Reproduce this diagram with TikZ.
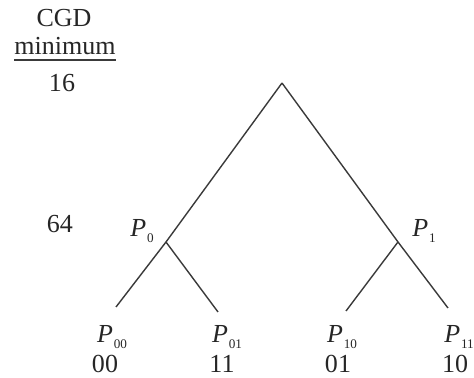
\documentclass[tikz,border=0pt]{standalone}
\usepackage{fontspec}
\setmainfont{Liberation Serif}
\usetikzlibrary{positioning}
\definecolor{treeLine}{HTML}{3A3A3A}
\definecolor{labText}{HTML}{262626}
\newcommand{\plab}[2]{\textit{#1}\kern0.5pt\raisebox{-0.45ex}{\fontsize{7.5}{8}\selectfont #2}}

\begin{document}
\begin{tikzpicture}[x=0.02cm, y=-0.02cm,
  txt/.style={inner sep=0pt, anchor=base, text=labText,
              font=\fontsize{14.8}{17}\selectfont},
  branch/.style={draw=treeLine, line width=0.8pt}]

% --- CANVAS (pixel units, y down) ---
\useasboundingbox (0,0) rectangle (474,378);

% --- LEFT COLUMN: CGD MINIMUM ---
\node[txt] (cgd) at (64,27) {CGD};
\node[txt] (minlab) at (65,55) {minimum};
\draw[treeLine, line width=1.1pt]
  (minlab.base west) ++(0,5) coordinate (ruleL) -- (ruleL -| minlab.east);
\node[txt] (v16) at (62,92) {16};
\node[txt] (v64) at (60,233) {64};

% --- TREE POINTS ---
\coordinate (root) at (282,83);
\coordinate (p0) at (166,242);
\coordinate (p1) at (398,242);
\coordinate (l00) at (116,307);
\coordinate (l01) at (218,312);
\coordinate (l10) at (346,311);
\coordinate (l11) at (448,308);

% --- BRANCHES ---
\draw[branch] (root) -- (p0) -- (l00);
\draw[branch] (root) -- (p1) -- (l11);
\draw[branch] (p0) -- (l01);
\draw[branch] (p1) -- (l10);

% --- INNER LABELS ---
\node[txt, anchor=base west] (lab0) at (130,237) {\plab{P}{0}};
\node[txt, anchor=base west] (lab1) at (412,237) {\plab{P}{1}};

% --- LEAF LABELS AND CODES ---
\foreach \nm/\px/\cx/\cw in {00/112/105/00, 01/227/222/11,
                              10/342/338/01, 11/459/455/10} {
  \node[txt] (lab\nm) at (\px,343) {\plab{P}{\nm}};
  \node[txt] (code\nm) at (\cx,373) {\cw};
}

\end{tikzpicture}
\end{document}
